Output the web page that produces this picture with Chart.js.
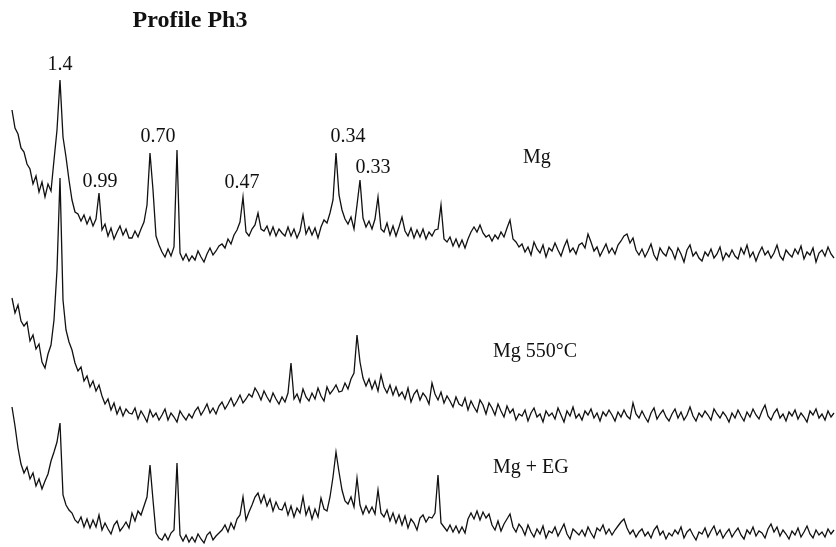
<!DOCTYPE html>
<html>
<head>
<meta charset="utf-8">
<script src="https://cdn.jsdelivr.net/npm/chart.js@4.4.0/dist/chart.umd.min.js"></script>
<style>
    html, body { margin: 0; padding: 0; background: #fff; }
    #wrap { width: 836px; height: 547px; position: relative; background: #fff; }
</style>
</head>
<body>
<div id="wrap"><canvas id="chart-xrd"></canvas></div>
<script>
// Barrido: 2θ inicial y paso (grados)
const START_2THETA = 2.8;
const STEP_2THETA = 0.2;

// Intensidades (unidades arbitrarias, ya desplazadas)
// Mg
const MG = [
    490,472,466,452,448,436,431,416,424,408, // 2.8°
    418,403,416,409,440,470,520,463,443,420, // 4.8°
    400,388,386,379,385,376,383,374,381,407, // 6.8°
    370,376,364,372,361,368,374,365,371,362, // 8.8°
    362,369,363,371,378,395,447,410,364,355, // 10.8°
    348,343,351,344,353,450,347,340,346,339, // 12.8°
    344,340,349,343,338,346,352,345,349,354, // 14.8°
    356,352,361,356,365,370,378,403,368,364, // 16.8°
    371,375,387,371,369,374,365,373,364,371, // 18.8°
    367,364,373,364,371,362,369,385,366,373, // 20.8°
    365,372,362,373,380,377,387,400,447,405, // 22.8°
    390,381,376,383,371,395,420,382,373,379, // 24.8°
    371,381,403,371,368,377,365,374,364,373, // 26.8°
    383,369,364,372,362,370,363,371,361,368, // 28.8°
    364,370,371,395,361,358,363,354,361,353, // 30.8°
    360,352,361,368,373,368,375,367,363,365, // 32.8°
    359,365,361,368,363,372,380,361,358,353, // 34.8°
    356,348,353,345,358,351,347,355,343,352, // 36.8°
    349,357,350,344,353,360,348,352,346,355, // 38.8°
    357,352,366,358,349,353,344,350,356,347, // 40.8°
    352,346,355,359,364,366,357,362,350,345, // 42.8°
    351,343,349,356,345,340,352,347,344,353, // 44.8°
    349,341,352,346,338,350,355,344,348,342, // 46.8°
    339,348,344,351,342,346,353,340,347,343, // 48.8°
    350,344,341,352,346,355,343,348,339,347, // 50.8°
    353,345,349,342,347,355,344,340,350,346, // 52.8°
    343,351,346,354,341,348,345,352,338,347, // 54.8°
    350,344,353,346,342                      // 56.8°
];

// Mg 550°C
const MG_550 = [
    302,287,295,279,274,278,259,265,251,256, // 2.8°
    238,232,246,255,280,330,422,300,270,258, // 4.8°
    250,237,229,233,219,224,213,219,209,215, // 6.8°
    204,196,201,190,197,186,193,184,191,187, // 8.8°
    186,192,181,189,184,178,190,183,187,180, // 10.8°
    185,191,180,187,183,178,189,184,180,186, // 12.8°
    182,189,193,185,190,196,187,192,186,194, // 14.8°
    198,191,196,202,194,199,205,197,201,206, // 16.8°
    203,212,207,200,209,203,198,207,201,196, // 18.8°
    203,198,207,237,201,206,198,211,203,199, // 20.8°
    207,201,212,204,199,213,206,210,215,208, // 22.8°
    209,217,211,221,227,265,238,222,214,221, // 24.8°
    211,219,209,225,213,207,215,205,213,204, // 26.8°
    208,201,212,198,206,210,200,207,203,196, // 28.8°
    217,206,200,208,197,204,199,193,203,196, // 30.8°
    194,202,190,199,193,188,200,195,186,197, // 32.8°
    192,185,196,189,183,194,187,191,180,186, // 34.8°
    184,190,179,187,192,183,186,178,189,184, // 36.8°
    187,181,192,185,178,189,184,193,182,186, // 38.8°
    180,189,185,191,182,187,179,188,184,190, // 40.8°
    185,179,188,183,190,184,181,197,186,182, // 42.8°
    189,183,178,187,192,181,186,190,183,179, // 44.8°
    186,191,182,188,180,185,193,184,179,187, // 46.8°
    183,189,185,180,191,186,182,188,184,178, // 48.8°
    187,182,190,184,179,188,183,191,185,181, // 50.8°
    189,195,184,180,187,191,182,186,179,188, // 52.8°
    184,190,181,187,183,178,189,185,191,182, // 54.8°
    186,180,189,183,187                      // 56.8°
];

// Mg + EG
const MG_EG = [
    193,174,152,136,127,133,121,127,114,121, // 2.8°
    111,119,126,139,148,158,177,105,95,90,   // 4.8°
    87,80,77,83,73,81,72,80,73,85,           // 6.8°
    70,77,71,66,75,79,69,73,78,72,           // 8.8°
    87,79,89,85,94,103,135,100,67,62,        // 10.8°
    60,66,60,67,70,137,65,59,65,58,          // 12.8°
    63,58,66,61,57,65,68,60,64,67,           // 14.8°
    70,75,68,77,71,81,85,103,80,88,          // 16.8°
    95,103,107,97,105,94,101,89,98,91,       // 18.8°
    90,97,85,94,83,92,87,103,85,93,          // 20.8°
    81,91,83,102,91,89,103,123,148,128,      // 22.8°
    110,99,96,103,93,122,95,86,94,87,        // 24.8°
    93,86,110,87,83,90,79,87,77,85,          // 26.8°
    75,84,72,81,77,70,82,85,78,83,           // 28.8°
    82,87,125,77,73,69,75,68,74,67,          // 30.8°
    73,67,81,87,81,89,80,88,82,86,           // 32.8°
    75,70,79,69,76,81,86,73,68,76,           // 34.8°
    72,65,75,68,63,71,66,74,62,69,           // 36.8°
    67,73,64,70,76,66,61,71,68,65,           // 38.8°
    70,64,73,67,62,72,69,75,66,71,           // 40.8°
    65,70,74,78,81,72,66,70,63,68,           // 42.8°
    71,64,68,62,70,74,65,69,61,67,           // 44.8°
    64,70,66,73,62,68,71,65,60,68,           // 46.8°
    66,72,63,69,74,65,70,62,67,71,           // 48.8°
    63,68,72,65,61,70,66,73,64,69,           // 50.8°
    67,62,71,76,68,73,64,70,66,61,           // 52.8°
    69,65,72,63,68,74,66,62,70,65,           // 54.8°
    68,63,71,66,70                           // 56.8°
];

// Etiquetas de picos (espaciado d, nm) y su posición (2θ, intensidad)
const PEAK_LABELS = ['1.4', '0.99', '0.70', '0.47', '0.34', '0.33'];
const PEAK_X = [6.0, 8.67, 12.53, 18.13, 25.2, 26.87];
const PEAK_Y = [535, 418, 463, 417, 463, 432];

// Etiquetas de cada muestra
const SAMPLE_LABELS = ['Mg', 'Mg 550°C', 'Mg + EG'];
const SAMPLE_X = [36.87, 34.87, 34.87];
const SAMPLE_Y = [442, 248, 132];

const TITLE = 'Profile Ph3';

function toPoints(values) {
    return values.map((v, i) => ({ x: START_2THETA + i * STEP_2THETA, y: v }));
}

// Plugin para textos
const labelsPlugin = {
    id: 'xrdLabels',
    beforeDraw(chart) {
        const { ctx } = chart;
        ctx.save();
        ctx.fillStyle = '#fff';
        ctx.fillRect(0, 0, chart.width, chart.height);
        ctx.restore();
    },
    afterDatasetsDraw(chart) {
        const { ctx, scales } = chart;
        ctx.save();
        ctx.fillStyle = '#111';
        ctx.textBaseline = 'middle';

        ctx.font = '20px "Liberation Serif", "Times New Roman", serif';
        ctx.textAlign = 'center';
        PEAK_LABELS.forEach((t, i) => {
            ctx.fillText(t, scales.x.getPixelForValue(PEAK_X[i]), scales.y.getPixelForValue(PEAK_Y[i]));
        });

        ctx.textAlign = 'left';
        SAMPLE_LABELS.forEach((t, i) => {
            ctx.fillText(t, scales.x.getPixelForValue(SAMPLE_X[i]), scales.y.getPixelForValue(SAMPLE_Y[i]));
        });

        ctx.font = 'bold 24px "Liberation Serif", "Times New Roman", serif';
        ctx.textAlign = 'center';
        ctx.fillText(TITLE, 190, 21);
        ctx.restore();
    }
};

const lineStyle = {
    borderColor: '#111',
    borderWidth: 1.3,
    pointRadius: 0,
    tension: 0,
    fill: false
};

new Chart(document.getElementById('chart-xrd'), {
    type: 'line',
    data: {
        datasets: [
            { label: 'Mg', data: toPoints(MG), ...lineStyle },
            { label: 'Mg 550°C', data: toPoints(MG_550), ...lineStyle },
            { label: 'Mg + EG', data: toPoints(MG_EG), ...lineStyle }
        ]
    },
    plugins: [labelsPlugin],
    options: {
        responsive: true,
        maintainAspectRatio: false,
        animation: false,
        layout: { padding: 0 },
        plugins: {
            legend: { display: false },
            tooltip: { enabled: false },
            title: { display: false }
        },
        scales: {
            x: { type: 'linear', min: 2, max: 2 + 836 / 15, display: false },
            y: { min: 53, max: 600, display: false }
        }
    }
});
</script>
</body>
</html>
